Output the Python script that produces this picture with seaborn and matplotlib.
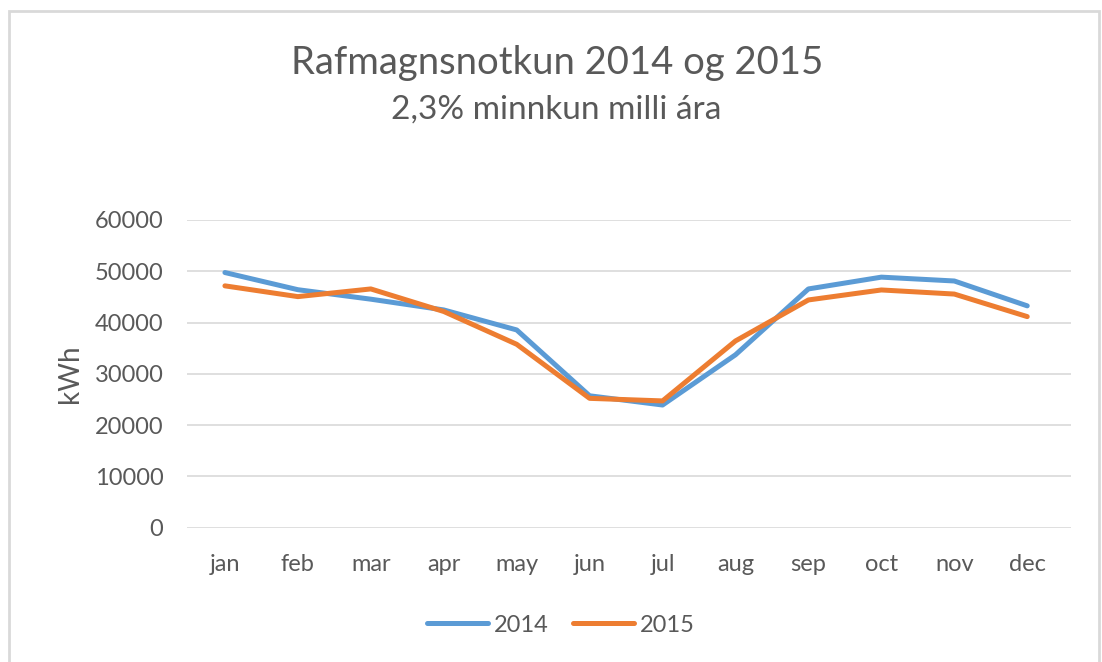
import matplotlib
matplotlib.use("Agg")
import matplotlib.pyplot as plt
import seaborn as sns
import pandas as pd
from matplotlib.patches import Rectangle

# Gögn lesin af myndinni (kWh á mánuði)
months = ["jan", "feb", "mar", "apr", "may", "jun",
          "jul", "aug", "sep", "oct", "nov", "dec"]
kwh_2014 = [49750, 46400, 44550, 42450, 38550, 25700,
            23900, 33700, 46550, 48850, 48100, 43250]
kwh_2015 = [47150, 45050, 46550, 42150, 35750, 25200,
            24700, 36400, 44400, 46350, 45550, 41150]
years = ["2014", "2015"]
colors = ["#5B9BD5", "#ED7D31"]

TEXT = "#595959"
GRID = "#D9D9D9"

df = pd.DataFrame({
    "month": months * 2,
    "kWh": kwh_2014 + kwh_2015,
    "year": [years[0]] * 12 + [years[1]] * 12,
})
df["pos"] = list(range(12)) * 2

sns.set_theme(style="white")
plt.rcParams["font.family"] = ["Lato", "DejaVu Sans"]

fig = plt.figure(figsize=(11.02, 6.62), dpi=100)
ax = fig.add_axes([187 / 1102, 1 - 527.5 / 662, 884 / 1102, 307.5 / 662])

sns.lineplot(data=df, x="pos", y="kWh", hue="year", palette=colors,
             linewidth=3.6, ax=ax, legend=False,
             solid_capstyle="round")

ax.set_ylim(0, 60000)
ax.set_xlim(-0.52, 11.6)
ax.set_yticks(range(0, 60001, 10000))
ax.set_xticks(range(12))
ax.set_xticklabels(months)
ax.yaxis.grid(True, color=GRID, linewidth=1.2)
ax.set_axisbelow(True)
for s in ax.spines.values():
    s.set_visible(False)
ax.tick_params(axis="both", length=0, labelsize=17, colors=TEXT)
ax.tick_params(axis="y", pad=17)
ax.tick_params(axis="x", pad=19)
ax.set_xlabel("")
ax.set_ylabel("kWh", fontsize=20, color=TEXT, labelpad=8)

# Rammi utan um myndina
fig.patches.append(Rectangle((9 / 1102, -0.05), 1090 / 1102, 1.05 - 11 / 662,
                             transform=fig.transFigure, fill=False,
                             edgecolor="#D9D9D9", linewidth=2))

fig.text(0.506, 1 - 63 / 662, "Rafmagnsnotkun 2014 og 2015",
         ha="center", va="center", fontsize=27.5, color=TEXT)
fig.text(0.505, 1 - 110 / 662, "2,3% minnkun milli ára",
         ha="center", va="center", fontsize=24, color=TEXT)

handles = [plt.Line2D([], [], color=c, linewidth=3.6, solid_capstyle="round")
           for c in colors]
fig.legend(handles, years, loc="center", bbox_to_anchor=(0.509, 1 - 625 / 662),
           ncol=2, frameon=False, fontsize=17, labelcolor=TEXT,
           handlelength=2.6, handletextpad=0.25, columnspacing=1.0)

fig.savefig("out.png", dpi=100)
